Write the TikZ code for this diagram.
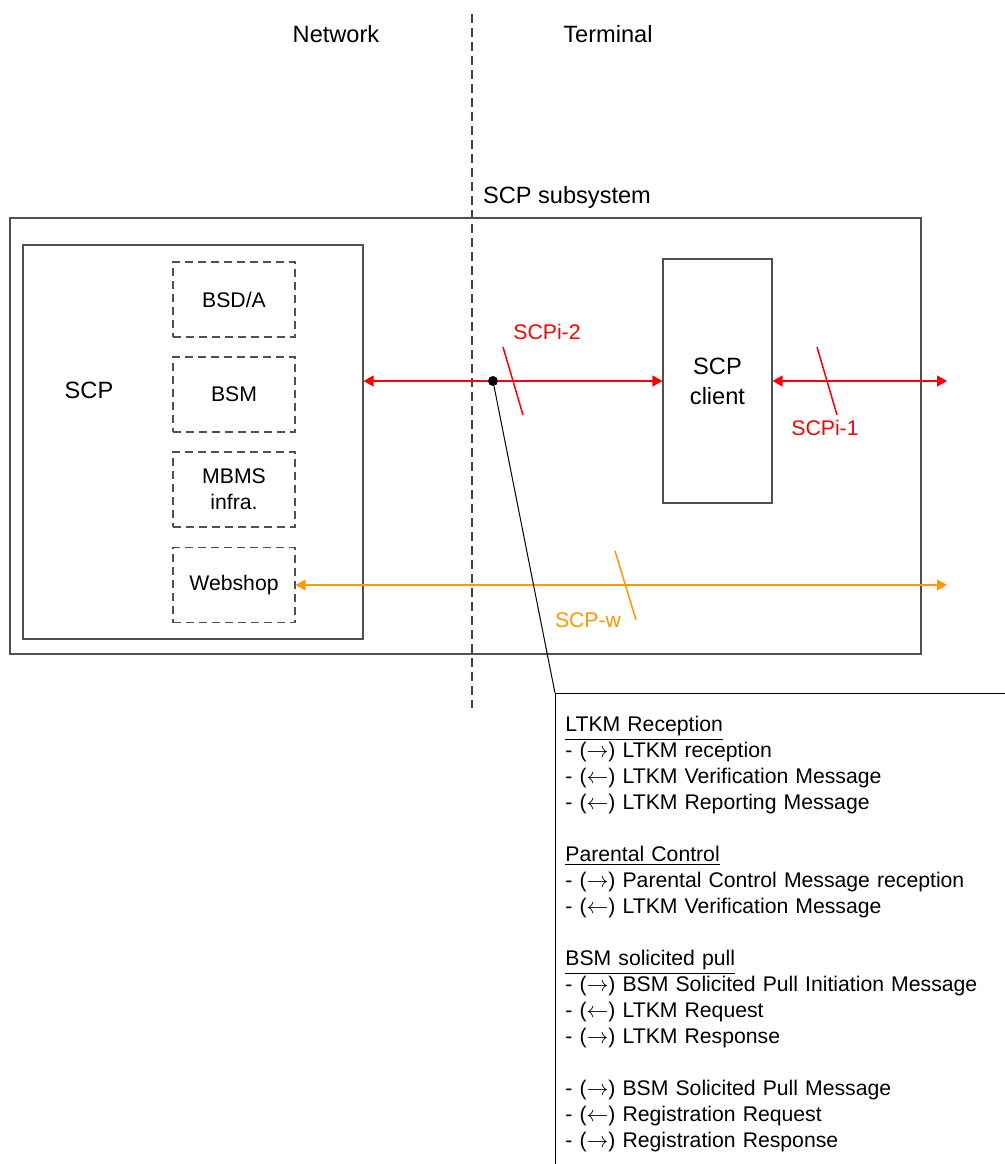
\documentclass[tikz,border=0pt]{standalone}
\usepackage{fontspec}
\setmainfont{Liberation Sans}
\definecolor{ifred}{RGB}{255, 0, 0}
\definecolor{iforange}{RGB}{255, 153, 0}
\definecolor{boxgray}{RGB}{80, 80, 80}
\usetikzlibrary{arrows.meta, calc}

\newcommand{\bigfont}{\fontsize{11.8}{15}\selectfont}
\newcommand{\smallfont}{\fontsize{10.6}{13}\selectfont}
\newcommand{\msgin}{- ($\rightarrow$)}
\newcommand{\msgout}{- ($\leftarrow$)}

\begin{document}
\begin{tikzpicture}[x=0.5pt, y=-0.5pt,
  box/.style={draw=boxgray, line width=0.6pt, inner sep=0pt},
  funcbox/.style={draw=boxgray, line width=0.6pt, dash pattern=on 4pt off 2.5pt, minimum width=61pt, minimum height=37.5pt, align=center, font=\smallfont, inner sep=0pt},
  bigtext/.style={font=\bigfont, inner sep=0pt},
  iflabel/.style={font=\smallfont, inner sep=0pt},
  ifarrow/.style={line width=0.75pt, {Triangle[length=5pt, width=5.5pt]}-{Triangle[length=5pt, width=5.5pt]}},
  ifslash/.style={line width=0.75pt}]
  \useasboundingbox (0,0) rectangle (1005,1164);

  % Network / Terminal split
  \coordinate (divtop) at (472,14);
  \coordinate (divbot) at (472,708);
  \draw[black!75, line width=0.6pt, dash pattern=on 4.5pt off 2.5pt] (divtop) -- (divbot);
  \node[bigtext] (network) at (336,34) {Network};
  \node[bigtext] (terminal) at (608,34) {Terminal};

  % SCP subsystem
  \node[box, minimum width=455.5pt, minimum height=218pt] (subsys) at (465.5,436) {};
  \node[bigtext] (subsyslabel) at (567,197) {SCP subsystem};

  % SCP
  \node[box, fill=white, minimum width=170pt, minimum height=197pt] (scp) at (193,442) {};
  \node[bigtext] (scplabel) at (89,390) {SCP};
  \node[funcbox] (bsda) at (234,299.5) {BSD/A};
  \node[funcbox] (bsm) at (234,394.5) {BSM};
  \node[funcbox] (mbms) at (234,489.5) {MBMS\\infra.};
  \node[funcbox] (webshop) at (234,585) {Webshop};

  % SCP client
  \node[box, minimum width=54.5pt, minimum height=122pt, align=center, font=\bigfont] (client) at (717.5,381) {SCP\\client};

  % Interfaces
  \coordinate (scpiend) at (947,381);
  \coordinate (scpwend) at (947,585);
  \draw[ifarrow, ifred] (scp.east |- client.west) -- (client.west);
  \draw[ifarrow, ifred] (client.east) -- (scpiend);
  \draw[ifarrow, iforange] (webshop.east) -- (scpwend);

  \draw[ifslash, ifred] (503,347) -- (523,415);
  \node[iflabel, text=ifred] (scpi2) at (547,332) {SCPi-2};
  \draw[ifslash, ifred] (817,347) -- (837,415);
  \node[iflabel, text=ifred] (scpi1) at (825,428) {SCPi-1};
  \draw[ifslash, iforange] (615,551) -- (636,620);
  \node[iflabel, text=iforange] (scpw) at (588,620) {SCP-w};

  % Message list
  \node[circle, fill=black, inner sep=0pt, minimum size=5pt] (tap) at (493,381) {};
  \node[anchor=north west, text width=215pt, inner xsep=5pt, inner ysep=11.5pt, font=\smallfont, align=left] (notes) at (555,693) {
    \underline{LTKM Reception}\\
    \msgin{} LTKM reception\\
    \msgout{} LTKM Verification Message\\
    \msgout{} LTKM Reporting Message\\[13pt]
    \underline{Parental Control}\\
    \msgin{} Parental Control Message reception\\
    \msgout{} LTKM Verification Message\\[13pt]
    \underline{BSM solicited pull}\\
    \msgin{} BSM Solicited Pull Initiation Message\\
    \msgout{} LTKM Request\\
    \msgin{} LTKM Response\\[13pt]
    \msgin{} BSM Solicited Pull Message\\
    \msgout{} Registration Request\\
    \msgin{} Registration Response
  };
  \coordinate (notesend) at (555,1164);
  \draw[line width=0.5pt] (tap) -- (notes.north west);
  \draw[line width=0.5pt] (notes.north east) -- (notes.north west) -- (notesend);
\end{tikzpicture}
\end{document}
